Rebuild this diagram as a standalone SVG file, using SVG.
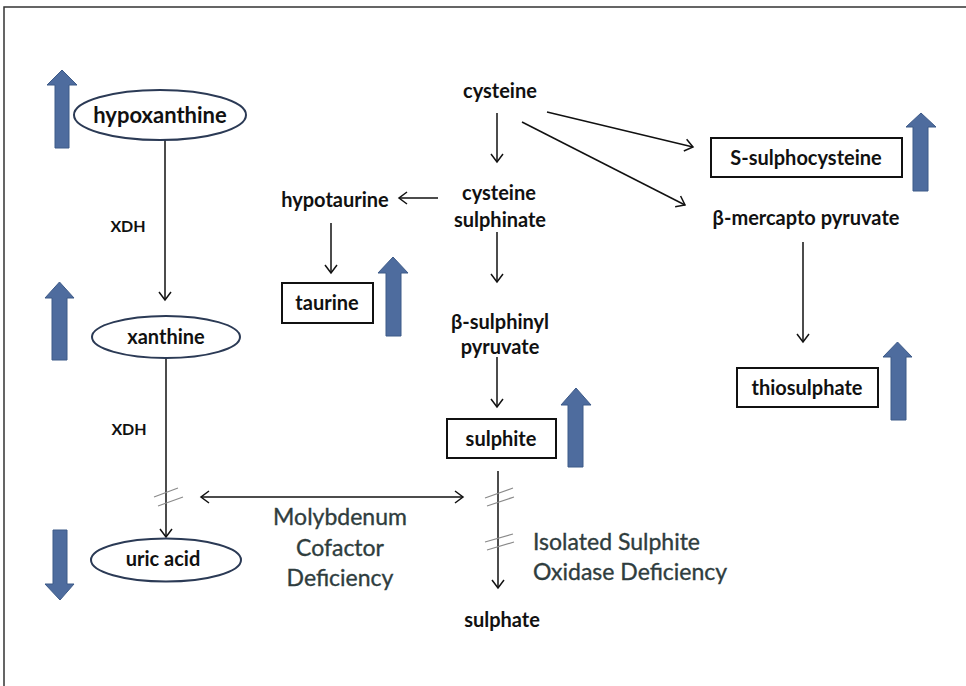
<svg xmlns="http://www.w3.org/2000/svg" width="966" height="686" viewBox="0 0 966 686">
<style>
.lbl{font-family:Lato,"Open Sans","Liberation Sans",sans-serif;font-weight:bold;fill:#111;text-anchor:middle}
.dis{font-family:Lato,"Open Sans","Liberation Sans",sans-serif;font-weight:normal;fill:#2f3d3e;stroke:#2f3d3e;stroke-width:0.35;font-size:23px}
.ell{fill:#fff;stroke:#2b3a55;stroke-width:2}
.box{fill:#fff;stroke:#111;stroke-width:2}
.blue{fill:#4e6c9e;stroke:#3d5a88;stroke-width:1}
.con{fill:none;stroke:#111;stroke-width:1.5}
.brk{fill:none;stroke:#8a8a8a;stroke-width:1.2}
</style>
<defs>
<marker id="ah" markerUnits="userSpaceOnUse" markerWidth="14" markerHeight="14" refX="10" refY="7" orient="auto-start-reverse" viewBox="0 0 14 14">
<path d="M2,1 L10,7 L2,13" fill="none" stroke="#111" stroke-width="1.5"/>
</marker>
</defs>
<rect width="966" height="686" fill="#fff"/>
<path d="M966,7 H4 V686" fill="none" stroke="#333" stroke-width="1.5"/>

<g id="connectors">
<line class="con" x1="165" y1="140" x2="165" y2="300" marker-end="url(#ah)"/>
<line class="con" x1="166" y1="358" x2="166" y2="537" marker-end="url(#ah)"/>
<line class="con" x1="201" y1="497" x2="463" y2="497" marker-start="url(#ah)" marker-end="url(#ah)"/>
<line class="con" x1="497" y1="113" x2="497" y2="162" marker-end="url(#ah)"/>
<line class="con" x1="547" y1="112" x2="693" y2="147" marker-end="url(#ah)"/>
<line class="con" x1="522" y1="122" x2="685" y2="205" marker-end="url(#ah)"/>
<line class="con" x1="438" y1="198" x2="399" y2="198" marker-end="url(#ah)"/>
<line class="con" x1="331" y1="223" x2="331" y2="273" marker-end="url(#ah)"/>
<line class="con" x1="497" y1="232" x2="497" y2="282" marker-end="url(#ah)"/>
<line class="con" x1="497" y1="357" x2="497" y2="407" marker-end="url(#ah)"/>
<line class="con" x1="498" y1="471" x2="498" y2="588" marker-end="url(#ah)"/>
<line class="con" x1="803" y1="242" x2="803" y2="342" marker-end="url(#ah)"/>
<path class="brk" d="M154,497 L178,488 M158,506 L183,497"/>
<path class="brk" d="M485,498 L513,488 M487,506 L514,497"/>
<path class="brk" d="M485,542 L513,534 M487,550 L514,542"/>
</g>

<g id="hypoxanthine">
<path class="blue" d="M55,148 V85 H47 L62,70 L77,85 H69 V148 Z"/>
<ellipse class="ell" cx="160" cy="115" rx="86" ry="25"/>
<text class="lbl" x="160" y="123" font-size="22">hypoxanthine</text>
</g>
<g id="xdh1"><text class="lbl" x="128" y="232" font-size="16">XDH</text></g>
<g id="xanthine">
<path class="blue" d="M52,360 V298 H45 L59.5,282 L74,298 H67 V360 Z"/>
<ellipse class="ell" cx="166" cy="337" rx="74" ry="21"/>
<text class="lbl" x="166" y="344" font-size="20">xanthine</text>
</g>
<g id="xdh2"><text class="lbl" x="129" y="435" font-size="16">XDH</text></g>
<g id="uric-acid">
<path class="blue" d="M53,530 H67 V584 H74 L60,600 L45,584 H53 Z"/>
<ellipse class="ell" cx="166" cy="560" rx="75" ry="21.5"/>
<text class="lbl" x="163" y="566" font-size="20">uric acid</text>
</g>
<g id="mocd">
<text class="dis" x="340" y="525" text-anchor="middle">Molybdenum</text>
<text class="dis" x="340" y="556" text-anchor="middle">Cofactor</text>
<text class="dis" x="340" y="586" text-anchor="middle">Deficiency</text>
</g>

<g id="cysteine"><text class="lbl" x="500" y="98" font-size="20">cysteine</text></g>
<g id="cysteine-sulphinate">
<text class="lbl" x="499" y="200" font-size="20">cysteine</text>
<text class="lbl" x="500" y="227" font-size="20">sulphinate</text>
</g>
<g id="hypotaurine"><text class="lbl" x="335" y="207" font-size="20">hypotaurine</text></g>
<g id="taurine">
<rect class="box" x="282" y="283" width="91" height="40"/>
<text class="lbl" x="327" y="310" font-size="20">taurine</text>
<path class="blue" d="M386,336 V273 H378 L393,257 L408,273 H401 V336 Z"/>
</g>
<g id="b-sulphinyl-pyruvate">
<text class="lbl" x="500" y="329" font-size="20">β-sulphinyl</text>
<text class="lbl" x="500" y="354" font-size="20">pyruvate</text>
</g>
<g id="sulphite">
<rect class="box" x="447" y="419" width="109" height="39"/>
<text class="lbl" x="501" y="446" font-size="20">sulphite</text>
<path class="blue" d="M568,467 V405 H561 L576,388 L591,405 H583 V467 Z"/>
</g>
<g id="isod">
<text class="dis" x="533" y="550">Isolated Sulphite</text>
<text class="dis" x="533" y="580">Oxidase Deficiency</text>
</g>
<g id="sulphate"><text class="lbl" x="502" y="627" font-size="20">sulphate</text></g>

<g id="s-sulphocysteine">
<rect class="box" x="711" y="138" width="191" height="39"/>
<text class="lbl" x="806" y="165" font-size="20">S-sulphocysteine</text>
<path class="blue" d="M913,191 V127 H906 L921,113 L936,127 H928 V191 Z"/>
</g>
<g id="b-mercapto-pyruvate"><text class="lbl" x="806" y="225" font-size="20">β-mercapto pyruvate</text></g>
<g id="thiosulphate">
<rect class="box" x="737" y="368" width="141" height="39"/>
<text class="lbl" x="807" y="395" font-size="20">thiosulphate</text>
<path class="blue" d="M891,420 V357 H883 L897.5,342 L912,357 H906 V420 Z"/>
</g>
</svg>
